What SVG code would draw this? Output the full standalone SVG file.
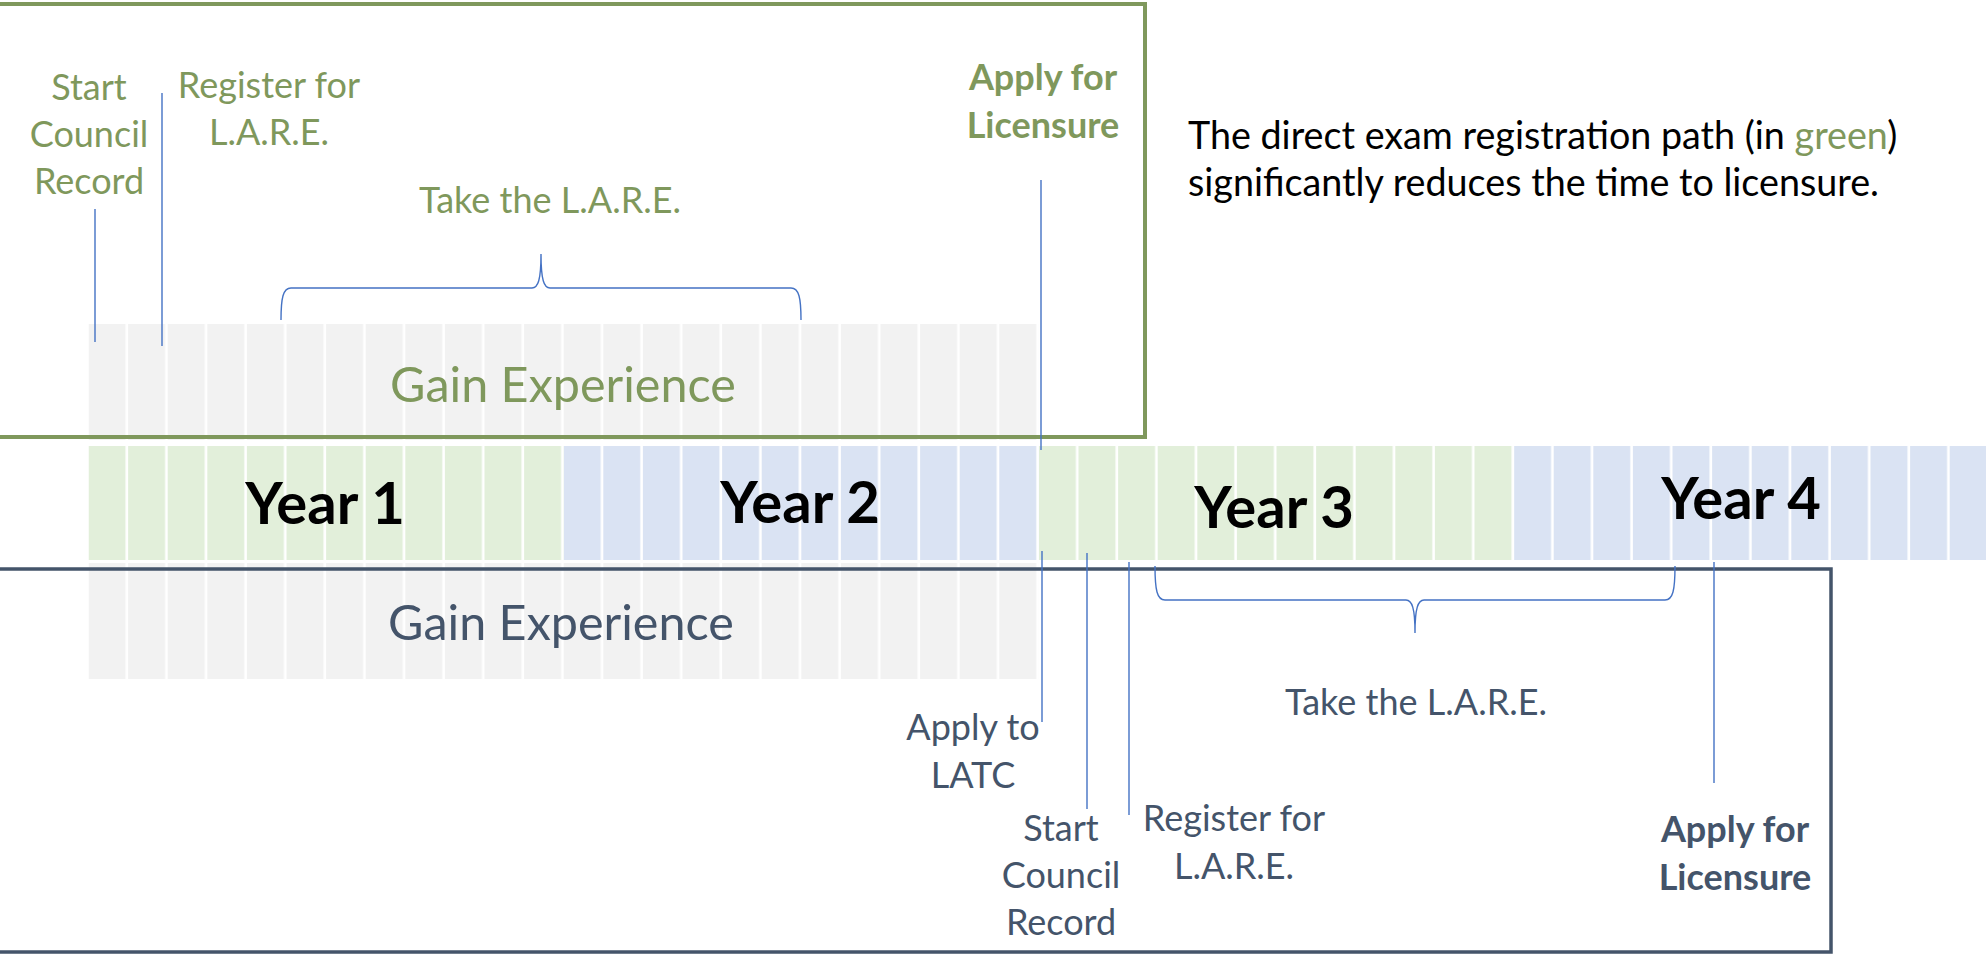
<svg xmlns="http://www.w3.org/2000/svg" width="1986" height="955" viewBox="0 0 1986 955">
  <style>
    .lbl { font-family: Lato, "Open Sans", "Liberation Sans", sans-serif; font-size: 36px; text-anchor: middle; }
    .green { fill: #7F985C; }
    .blue { fill: #44546A; }
    .bold { font-weight: bold; font-size: 36px; }
    .year { font-family: Lato, "Liberation Sans", sans-serif; font-weight: bold; font-size: 58px; fill: #000; text-anchor: middle; }
    .gain { font-family: Lato, "Liberation Sans", sans-serif; font-size: 48.5px; text-anchor: middle; }
    .desc { font-family: Lato, "Liberation Sans", sans-serif; font-size: 37.7px; fill: #000; }
    .conn { stroke: #4472C4; stroke-width: 1.4; fill: none; }
  </style>
  <defs>
    <pattern id="cellGray" patternUnits="userSpaceOnUse" x="88.5" y="0" width="39.6" height="955">
      <rect x="0" y="0" width="37" height="955" fill="#F2F2F2"/>
    </pattern>
    <pattern id="cellGreen" patternUnits="userSpaceOnUse" x="88.5" y="0" width="39.6" height="955">
      <rect x="0" y="0" width="37" height="955" fill="#E2EFDA"/>
    </pattern>
    <pattern id="cellBlue" patternUnits="userSpaceOnUse" x="88.5" y="0" width="39.6" height="955">
      <rect x="0" y="0" width="37" height="955" fill="#DAE3F3"/>
    </pattern>
  </defs>
  <rect width="1986" height="955" fill="#FFFFFF"/>

  <g id="top-experience">
    <rect x="88.5" y="324" width="950.4" height="116" fill="url(#cellGray)"/>
    <text class="gain green" x="563" y="402">Gain Experience</text>
  </g>

  <g id="bottom-experience">
    <rect x="88.5" y="563" width="950.4" height="116" fill="url(#cellGray)"/>
  </g>

  <g id="years">
    <rect x="88.5" y="446" width="475.2" height="114" fill="url(#cellGreen)"/>
    <rect x="563.7" y="446" width="475.2" height="114" fill="url(#cellBlue)"/>
    <rect x="1038.9" y="446" width="475.2" height="114" fill="url(#cellGreen)"/>
    <rect x="1514.1" y="446" width="475.2" height="114" fill="url(#cellBlue)"/>
    <text class="year" x="325" y="524">Year 1</text>
    <text class="year" x="800" y="523">Year 2</text>
    <text class="year" x="1274" y="528">Year 3</text>
    <text class="year" x="1741" y="519">Year 4</text>
  </g>

  <g id="green-path-box">
    <rect x="-10" y="4" width="1155" height="433" fill="none" stroke="#7F985C" stroke-width="4"/>
  </g>

  <g id="blue-path-box">
    <rect x="-10" y="569" width="1841" height="383" fill="none" stroke="#44546A" stroke-width="3.5"/>
    <text class="gain blue" x="561" y="640">Gain Experience</text>
  </g>

  <g id="connectors">
    <line class="conn" x1="95" y1="209" x2="95" y2="342"/>
    <line class="conn" x1="162" y1="93" x2="162" y2="346"/>
    <path class="conn" d="M 281 320 C 281 298, 283 288, 291 288 L 532 288 C 538 288, 541 280, 541 254 C 541 280, 544 288, 550 288 L 791 288 C 799 288, 801 298, 801 320"/>
    <line class="conn" x1="1041" y1="180" x2="1041" y2="450"/>
    <line class="conn" x1="1042" y1="551" x2="1042" y2="722"/>
    <line class="conn" x1="1087" y1="553" x2="1087" y2="809"/>
    <line class="conn" x1="1129" y1="562" x2="1129" y2="815"/>
    <path class="conn" d="M 1155 566 C 1155 590, 1157 600, 1165 600 L 1406 600 C 1412 600, 1415 608, 1415 633 C 1415 608, 1418 600, 1424 600 L 1665 600 C 1673 600, 1675 590, 1675 566"/>
    <line class="conn" x1="1714" y1="562" x2="1714" y2="783"/>
  </g>

  <g id="top-start-council-record">
    <text class="lbl green" x="89" y="100">Start</text>
    <text class="lbl green" x="89" y="147">Council</text>
    <text class="lbl green" x="89" y="194">Record</text>
  </g>
  <g id="top-register-lare">
    <text class="lbl green" x="269" y="98">Register for</text>
    <text class="lbl green" x="269" y="145">L.A.R.E.</text>
  </g>
  <g id="top-take-lare">
    <text class="lbl green" x="550" y="213">Take the L.A.R.E.</text>
  </g>
  <g id="top-apply-licensure">
    <text class="lbl green bold" x="1043" y="90">Apply for</text>
    <text class="lbl green bold" x="1043" y="138">Licensure</text>
  </g>

  <g id="description">
    <text class="desc" x="1188" y="149">The direct exam registration path (in <tspan class="green">green</tspan>)</text>
    <text class="desc" x="1188" y="196">significantly reduces the time to licensure.</text>
  </g>

  <g id="bottom-apply-latc">
    <text class="lbl blue" x="973" y="740">Apply to</text>
    <text class="lbl blue" x="973" y="788">LATC</text>
  </g>
  <g id="bottom-start-council-record">
    <text class="lbl blue" x="1061" y="841">Start</text>
    <text class="lbl blue" x="1061" y="888">Council</text>
    <text class="lbl blue" x="1061" y="935">Record</text>
  </g>
  <g id="bottom-register-lare">
    <text class="lbl blue" x="1234" y="831">Register for</text>
    <text class="lbl blue" x="1234" y="879">L.A.R.E.</text>
  </g>
  <g id="bottom-take-lare">
    <text class="lbl blue" x="1416" y="715">Take the L.A.R.E.</text>
  </g>
  <g id="bottom-apply-licensure">
    <text class="lbl blue bold" x="1735" y="842">Apply for</text>
    <text class="lbl blue bold" x="1735" y="890">Licensure</text>
  </g>
</svg>
